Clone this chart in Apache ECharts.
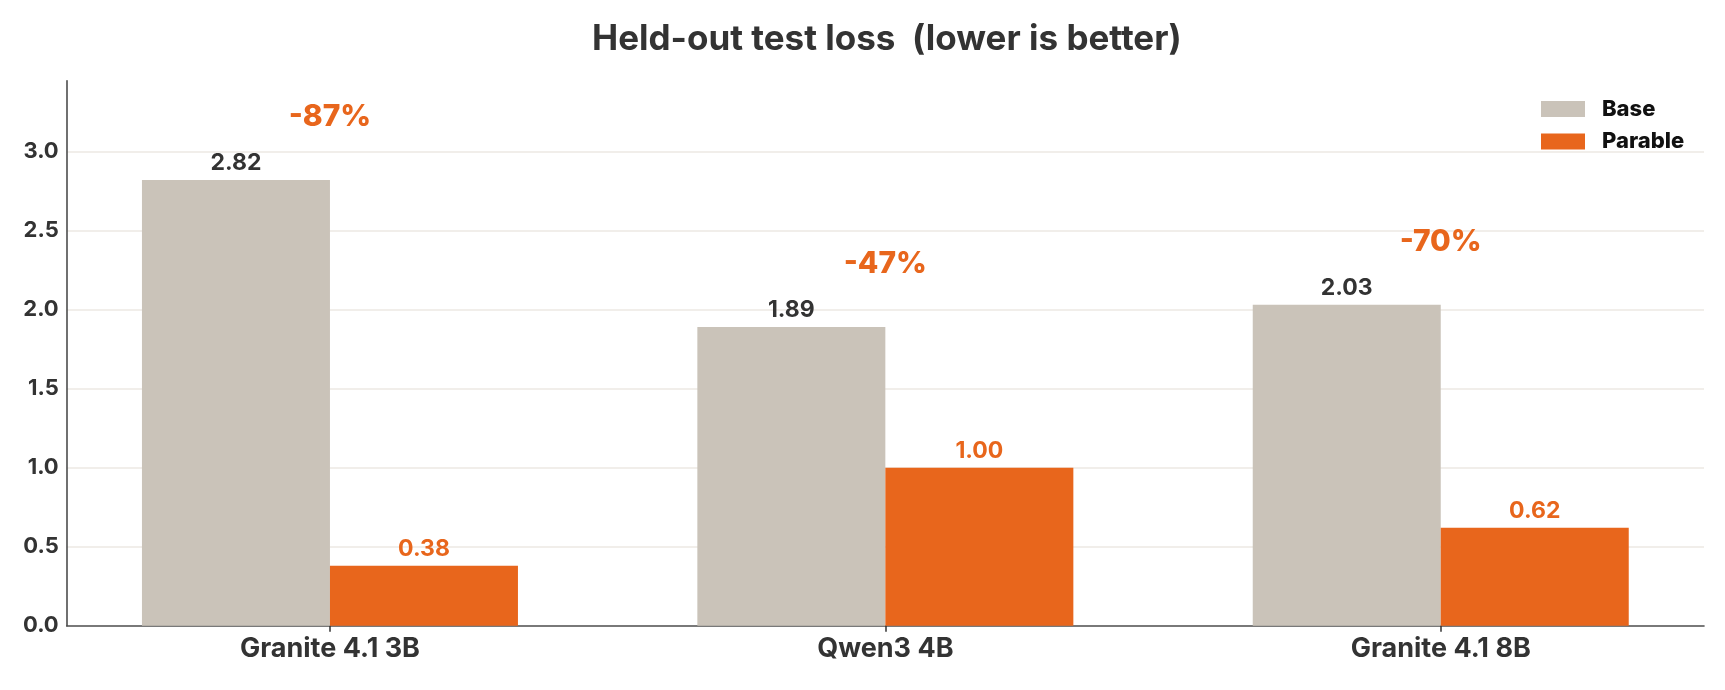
<!DOCTYPE html>
<html>
<head>
<meta charset="utf-8">
<script src="https://cdn.jsdelivr.net/npm/echarts@6/dist/echarts.min.js"></script>
<style>html,body{margin:0;padding:0;background:#fff}#c{width:1725px;height:690px}</style>
</head>
<body>
<div id="c"></div>
<script>
const categories = ["Granite 4.1 3B", "Qwen3 4B", "Granite 4.1 8B"];
const baseLoss = [2.82, 1.89, 2.03];
const parableLoss = [0.38, 1.00, 0.62];
const changeLabels = ["-87%", "-47%", "-70%"];
const yTicks = [0, 0.5, 1.0, 1.5, 2.0, 2.5, 3.0];

const FONT = "Inter";
const ORANGE = "#E8661C";
const BEIGE = "#CAC3B9";
const DARK = "#333333";

const chart = echarts.init(document.getElementById('c'), null, {renderer: 'canvas'});
const idx = categories.map((_, i) => i);
chart.setOption({
  animation: false,
  backgroundColor: '#ffffff',
  title: {
    text: 'Held-out test loss  (lower is better)',
    left: 587,
    top: 17,
    textStyle: {fontFamily: FONT, fontWeight: 'bold', fontSize: 35, color: DARK}
  },
  legend: {
    orient: 'vertical',
    left: 1536,
    top: 93,
    itemWidth: 44,
    itemHeight: 16,
    itemGap: 10.5,
    icon: 'rect',
    textStyle: {fontFamily: FONT, fontWeight: 800, fontSize: 22, lineHeight: 16, color: '#111', padding: [0, 0, 0, 12]},
    data: ['Base', 'Parable']
  },
  grid: {left: 66.7, right: 21, top: 80.7, bottom: 64.3, containLabel: false},
  xAxis: {
    type: 'value',
    min: -0.474,
    max: 2.474,
    axisLine: {show: true, lineStyle: {color: '#4d4d4d', width: 1.6}},
    axisTick: {show: true, customValues: idx, length: 6, lineStyle: {color: '#333', width: 1.5}},
    axisLabel: {
      customValues: idx,
      formatter: v => categories[Math.round(v)] || '',
      fontFamily: FONT, fontWeight: 'bold', fontSize: 27, color: DARK, margin: 10
    },
    splitLine: {show: false}
  },
  yAxis: {
    type: 'value',
    min: 0,
    max: 3.448,
    interval: 0.5,
    axisLine: {show: true, onZero: false, lineStyle: {color: '#4d4d4d', width: 1.6}},
    axisTick: {show: false},
    axisLabel: {
      showMaxLabel: false,
      formatter: v => yTicks.indexOf(v) >= 0 ? v.toFixed(1) : '',
      fontFamily: FONT, fontWeight: 'bold', fontSize: 22, color: DARK, margin: 8
    },
    splitLine: {show: true, showMinLine: false, showMaxLine: false, lineStyle: {color: '#ECE8E3', width: 1.5}}
  },
  series: [
    {
      name: 'Base', type: 'bar', barWidth: 188, barGap: '0%',
      itemStyle: {color: BEIGE},
      data: baseLoss.map((v, i) => [i, v]),
      label: {show: true, position: 'top', distance: 5, formatter: p => p.value[1].toFixed(2),
        fontFamily: FONT, fontWeight: 'bold', fontSize: 23, color: DARK}
    },
    {
      name: 'Parable', type: 'bar', barWidth: 188, barGap: '0%',
      itemStyle: {color: ORANGE},
      data: parableLoss.map((v, i) => [i, v]),
      label: {show: true, position: 'top', distance: 5, formatter: p => p.value[1].toFixed(2),
        fontFamily: FONT, fontWeight: 'bold', fontSize: 23, color: ORANGE}
    },
    {
      name: 'change', type: 'scatter', symbolSize: 0, silent: true,
      itemStyle: {opacity: 1},
      data: baseLoss.map((v, i) => [i, Math.max(v, parableLoss[i]) + 0.4]),
      label: {show: true, position: 'inside', opacity: 1, formatter: p => changeLabels[p.dataIndex],
        fontFamily: FONT, fontWeight: 800, fontSize: 30, color: ORANGE}
    }
  ]
});
</script>
</body>
</html>
